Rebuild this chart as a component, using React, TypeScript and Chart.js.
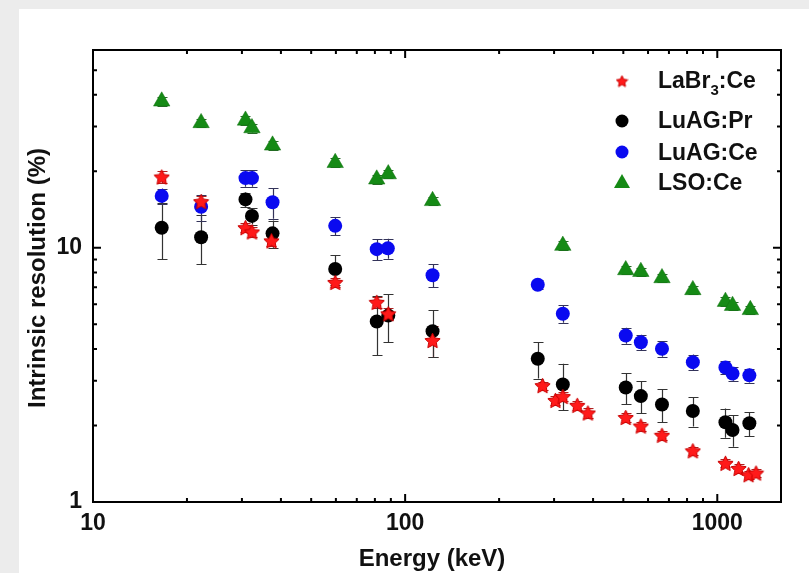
import React, { useEffect, useRef } from "react";
import { Chart, registerables } from "chart.js";

Chart.register(...registerables);

// ---- data (energy in keV, intrinsic resolution in %) ----
const labr3Energy = [16.6, 22.2, 30.8, 32.3, 37.3, 59.7, 81.1, 88.3, 122.4, 275.5, 303, 320, 356, 385, 509, 569, 665, 835, 1062, 1170, 1260, 1331];
const labr3Res = [19.0, 15.2, 12.0, 11.55, 10.65, 7.31, 6.1, 5.5, 4.32, 2.87, 2.51, 2.6, 2.4, 2.24, 2.15, 1.99, 1.83, 1.59, 1.42, 1.355, 1.28, 1.3];
const labr3Err = [1.0, 0.8, 0.5, 0.5, 0.5, 0.3, 0.3, 0.3, 0.6, 0.1, 0.1, 0.1, 0.1, 0.1, 0.08, 0.08, 0.08, 0.06, 0.05, 0.05, 0.05, 0.05];

const luagPrEnergy = [16.6, 22.2, 30.8, 32.3, 37.6, 59.7, 81.1, 88.3, 122.4, 266, 320, 509, 569, 665, 835, 1062, 1119, 1267];
const luagPrRes = [12.0, 11.0, 15.5, 13.35, 11.4, 8.25, 5.13, 5.41, 4.7, 3.66, 2.9, 2.82, 2.61, 2.42, 2.28, 2.06, 1.92, 2.04];
const luagPrErr = [3.0, 2.4, 1.0, 1.0, 1.4, 1.1, 1.35, 1.15, 0.97, 0.6, 0.6, 0.4, 0.38, 0.36, 0.3, 0.27, 0.27, 0.22];

const luagCeEnergy = [16.6, 22.2, 30.8, 32.3, 37.6, 59.7, 81.1, 88.0, 122.4, 266, 320, 509, 569, 665, 835, 1062, 1119, 1267];
const luagCeRes = [16.0, 14.5, 18.8, 18.8, 15.1, 12.2, 9.88, 9.95, 7.8, 7.16, 5.5, 4.52, 4.25, 4.01, 3.55, 3.38, 3.2, 3.15];
const luagCeErr = [1.1, 1.7, 1.4, 1.4, 2.1, 1.0, 0.95, 0.9, 0.8, 0.3, 0.43, 0.33, 0.3, 0.28, 0.25, 0.2, 0.2, 0.2];

const lsoEnergy = [16.6, 22.2, 30.8, 32.3, 37.6, 59.7, 81.1, 88.3, 122.4, 320, 509, 569, 665, 835, 1062, 1119, 1276];
const lsoRes = [37.7, 31.0, 31.7, 29.6, 25.3, 21.6, 18.6, 19.5, 15.3, 10.2, 8.18, 8.05, 7.61, 6.83, 6.14, 5.92, 5.7];
const lsoErr = [1.5, 1.2, 1.2, 1.2, 1.0, 0.9, 0.7, 0.7, 0.6, 0.4, 0.3, 0.3, 0.3, 0.25, 0.25, 0.22, 0.22];

const xMajorTicks = [10, 100, 1000];
const yMajorTicks = [1, 10];
const xMin = 10;
const xMax = 1600;
const yMin = 1;
const yMax = 60;

const FONT = "'Liberation Sans', Arial, Helvetica, sans-serif";

function makeStar(size: number, fill: string, stroke: string): HTMLCanvasElement {
  const c = document.createElement("canvas");
  c.width = size;
  c.height = size;
  const ctx = c.getContext("2d")!;
  const cx = size / 2;
  const cy = size / 2 + 0.7;
  const ro = size / 2 - 0.5;
  const ri = ro * 0.5;
  ctx.beginPath();
  for (let i = 0; i < 10; i++) {
    const r = i % 2 === 0 ? ro : ri;
    const a = -Math.PI / 2 + (i * Math.PI) / 5;
    const px = cx + r * Math.cos(a);
    const py = cy + r * Math.sin(a);
    if (i === 0) ctx.moveTo(px, py);
    else ctx.lineTo(px, py);
  }
  ctx.closePath();
  ctx.fillStyle = fill;
  ctx.fill();
  ctx.lineWidth = 1;
  ctx.strokeStyle = stroke;
  ctx.stroke();
  return c;
}

function toPoints(xs: number[], ys: number[], es: number[]) {
  return xs.map((x, i) => ({ x, y: ys[i], e: es[i] }));
}

function minorValues(lo: number, hi: number): number[] {
  const out: number[] = [];
  for (let d = Math.pow(10, Math.floor(Math.log10(lo))); d < hi; d *= 10) {
    for (let k = 2; k <= 9; k++) {
      const v = k * d;
      if (v > lo && v < hi) out.push(v);
    }
  }
  return out;
}

const errorBarPlugin = {
  id: "errorBars",
  beforeDatasetsDraw(chart: any) {
    const ctx = chart.ctx;
    const yScale = chart.scales.y;
    chart.data.datasets.forEach((ds: any, di: number) => {
      const meta = chart.getDatasetMeta(di);
      ctx.save();
      ctx.strokeStyle = ds.errorColor;
      ctx.lineWidth = 1.2;
      meta.data.forEach((pt: any, i: number) => {
        const raw = ds.data[i];
        const top = yScale.getPixelForValue(raw.y + raw.e);
        const bot = yScale.getPixelForValue(Math.max(raw.y - raw.e, 0.01));
        const x = Math.round(pt.x) + 0.5;
        ctx.beginPath();
        ctx.moveTo(x, top);
        ctx.lineTo(x, bot);
        ctx.moveTo(x - 5, Math.round(top) + 0.5);
        ctx.lineTo(x + 5, Math.round(top) + 0.5);
        ctx.moveTo(x - 5, Math.round(bot) + 0.5);
        ctx.lineTo(x + 5, Math.round(bot) + 0.5);
        ctx.stroke();
      });
      ctx.restore();
    });
  },
};

const framePlugin = {
  id: "frameTicks",
  afterDatasetsDraw(chart: any) {
    const ctx = chart.ctx;
    const { left, right, top, bottom } = chart.chartArea;
    const xs = chart.scales.x;
    const ys = chart.scales.y;
    ctx.save();
    ctx.strokeStyle = "#000";
    ctx.lineWidth = 2;
    ctx.strokeRect(left, top, right - left, bottom - top);
    const major = 8;
    const minor = 4;
    ctx.beginPath();
    const xTick = (v: number, len: number) => {
      const px = xs.getPixelForValue(v);
      ctx.moveTo(px, bottom);
      ctx.lineTo(px, bottom - len);
      ctx.moveTo(px, top);
      ctx.lineTo(px, top + len);
    };
    const yTick = (v: number, len: number) => {
      const py = ys.getPixelForValue(v);
      ctx.moveTo(left, py);
      ctx.lineTo(left + len, py);
      ctx.moveTo(right, py);
      ctx.lineTo(right - len, py);
    };
    xMajorTicks.forEach((v) => xTick(v, major));
    minorValues(xMin, xMax).forEach((v) => xTick(v, minor));
    yMajorTicks.forEach((v) => yTick(v, major));
    minorValues(yMin, yMax).forEach((v) => yTick(v, minor));
    ctx.stroke();
    ctx.restore();
  },
};

const titlesPlugin = {
  id: "axisTitlesLegend",
  afterDraw(chart: any) {
    const ctx = chart.ctx;
    const { left, right } = chart.chartArea;
    ctx.save();
    ctx.fillStyle = "#111";
    ctx.font = `bold 24px ${FONT}`;
    ctx.textAlign = "center";
    ctx.textBaseline = "alphabetic";
    ctx.fillText("Energy (keV)", (left + right) / 2 - 5, 566);
    ctx.translate(45, 278);
    ctx.rotate(-Math.PI / 2);
    ctx.fillText("Intrinsic resolution (%)", 0, 0);
    ctx.restore();

    // legend
    const items = chart.data.datasets;
    const mx = 622;
    const tx = 658;
    const rowsY = [81, 121, 152, 182];
    const baseY = [88, 128, 160, 190];
    ctx.save();
    items.forEach((ds: any, i: number) => {
      const y = rowsY[i];
      if (ds.pointStyle instanceof HTMLCanvasElement) {
        const img = ds.legendImage as HTMLCanvasElement;
        ctx.drawImage(img, mx - img.width / 2, y - img.height / 2);
      } else if (ds.pointStyle === "triangle") {
        ctx.beginPath();
        ctx.moveTo(mx, y - 8);
        ctx.lineTo(mx + 8, y + 6);
        ctx.lineTo(mx - 8, y + 6);
        ctx.closePath();
        ctx.fillStyle = ds.backgroundColor;
        ctx.fill();
      } else {
        ctx.beginPath();
        ctx.arc(mx, y, 6.5, 0, Math.PI * 2);
        ctx.fillStyle = ds.backgroundColor;
        ctx.fill();
      }
      ctx.fillStyle = "#111";
      ctx.textAlign = "left";
      ctx.textBaseline = "alphabetic";
      ctx.font = `bold 23px ${FONT}`;
      const parts: string[] = ds.labelParts;
      let x = tx;
      ctx.fillText(parts[0], x, baseY[i]);
      x += ctx.measureText(parts[0]).width;
      if (parts.length > 1) {
        ctx.font = `bold 15px ${FONT}`;
        ctx.fillText(parts[1], x, baseY[i] + 7);
        x += ctx.measureText(parts[1]).width;
        ctx.font = `bold 23px ${FONT}`;
        ctx.fillText(parts[2], x, baseY[i]);
      }
    });
    ctx.restore();
  },
};

export default function App() {
  const canvasRef = useRef<HTMLCanvasElement | null>(null);

  useEffect(() => {
    const canvas = canvasRef.current;
    if (!canvas) return;
    const star = makeStar(17, "#ff1a1a", "#c80000");
    const starLegend = makeStar(13, "#ff1a1a", "#c80000");

    const chart = new Chart(canvas, {
      type: "scatter",
      data: {
        datasets: [
          {
            label: "LaBr3:Ce",
            labelParts: ["LaBr", "3", ":Ce"],
            data: toPoints(labr3Energy, labr3Res, labr3Err),
            pointStyle: star,
            legendImage: starLegend,
            backgroundColor: "#ff1a1a",
            borderColor: "#c80000",
            errorColor: "#b02020",
            pointRadius: 8,
          },
          {
            label: "LuAG:Pr",
            labelParts: ["LuAG:Pr"],
            data: toPoints(luagPrEnergy, luagPrRes, luagPrErr),
            pointStyle: "circle",
            backgroundColor: "#000000",
            borderColor: "#000000",
            errorColor: "#333333",
            pointRadius: 7,
            borderWidth: 0,
          },
          {
            label: "LuAG:Ce",
            labelParts: ["LuAG:Ce"],
            data: toPoints(luagCeEnergy, luagCeRes, luagCeErr),
            pointStyle: "circle",
            backgroundColor: "#0a0af0",
            borderColor: "#0a0af0",
            errorColor: "#33335a",
            pointRadius: 7,
            borderWidth: 0,
          },
          {
            label: "LSO:Ce",
            labelParts: ["LSO:Ce"],
            data: toPoints(lsoEnergy, lsoRes, lsoErr),
            pointStyle: "triangle",
            backgroundColor: "#158a15",
            borderColor: "#107010",
            errorColor: "#2a6a2a",
            pointRadius: 9.5,
            borderWidth: 0.5,
          },
        ] as any,
      },
      options: {
        animation: false,
        responsive: false,
        devicePixelRatio: 1,
        layout: { padding: { left: 0, right: 28, top: 50, bottom: 0 } },
        plugins: {
          legend: { display: false },
          tooltip: { enabled: false },
        },
        scales: {
          x: {
            type: "logarithmic",
            min: xMin,
            max: xMax,
            grid: { display: false, drawTicks: false },
            border: { display: false },
            afterBuildTicks: (s: any) => {
              s.ticks = xMajorTicks.map((v) => ({ value: v, major: true }));
            },
            afterFit: (s: any) => {
              s.height = 71;
            },
            ticks: {
              padding: 8,
              color: "#111",
              font: { family: FONT, size: 23, weight: "bold" },
              callback: (v: any) => String(v),
            },
          },
          y: {
            type: "logarithmic",
            min: yMin,
            max: yMax,
            grid: { display: false, drawTicks: false },
            border: { display: false },
            afterBuildTicks: (s: any) => {
              s.ticks = yMajorTicks.map((v) => ({ value: v, major: true }));
            },
            afterFit: (s: any) => {
              s.width = 93;
            },
            ticks: {
              padding: 11,
              color: "#111",
              font: { family: FONT, size: 23, weight: "bold" },
              callback: (v: any) => String(v),
            },
          },
        },
      } as any,
      plugins: [errorBarPlugin, framePlugin, titlesPlugin],
    });

    return () => chart.destroy();
  }, []);

  return (
    <div
      style={{
        position: "absolute",
        left: 0,
        top: 0,
        width: 809,
        height: 573,
        background: "#ececec",
        overflow: "hidden",
      }}
    >
      <div
        style={{
          position: "absolute",
          left: 19,
          top: 9,
          right: 0,
          bottom: 0,
          background: "#ffffff",
        }}
      />
      <canvas
        ref={canvasRef}
        width={809}
        height={573}
        style={{ position: "absolute", left: 0, top: 0, width: 809, height: 573 }}
      />
    </div>
  );
}
